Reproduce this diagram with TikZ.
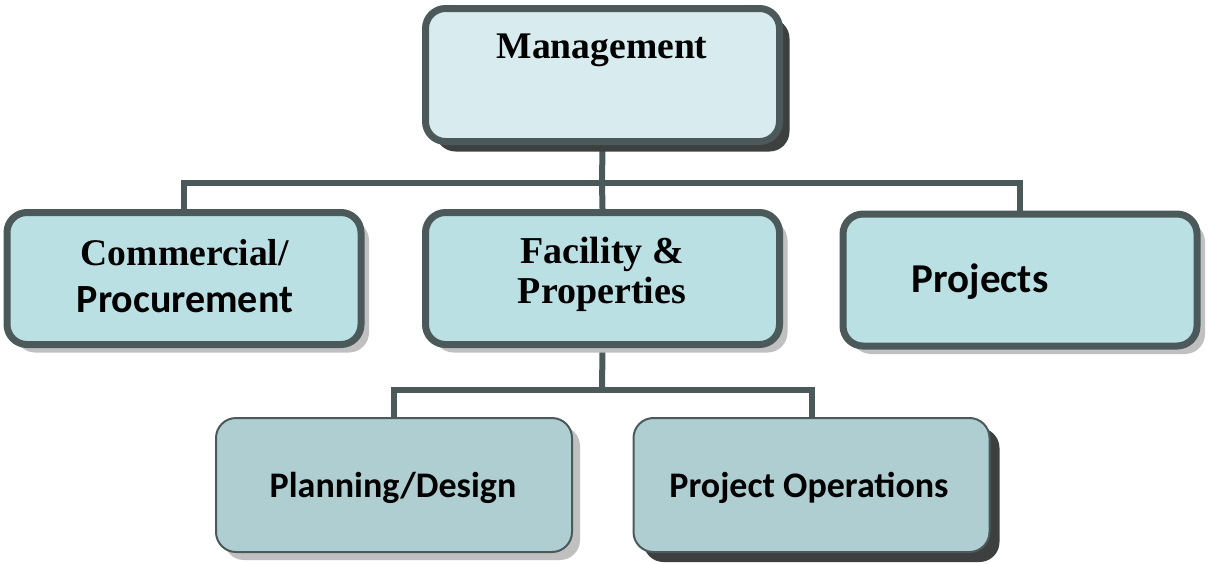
\documentclass[tikz,border=0pt]{standalone}
\usepackage{fontspec}
\setmainfont{Liberation Serif}
\setsansfont{Carlito}
\usetikzlibrary{shadows,backgrounds}

\definecolor{edgegray}{RGB}{76,89,90}
\definecolor{toplight}{RGB}{216,236,240}
\definecolor{midfill}{RGB}{186,224,228}
\definecolor{lowfill}{RGB}{174,206,209}
\definecolor{shadowdark}{RGB}{62,64,64}
\definecolor{shadowlight}{RGB}{192,192,192}

\tikzset{
  unitbox/.style={rounded corners=10pt, rectangle, draw=edgegray, line width=3.5pt,
    minimum width=177pt, minimum height=66pt, fill=midfill},
  subbox/.style={rounded corners=10pt, rectangle, draw=edgegray, line width=1pt,
    minimum width=178pt, minimum height=67pt, fill=lowfill},
  darkshadow/.style={drop shadow={shadow xshift=5pt, shadow yshift=-5pt, fill=shadowdark, opacity=1}},
  lightshadow/.style={drop shadow={shadow xshift=4pt, shadow yshift=-4pt, fill=shadowlight, opacity=1}},
  serifname/.style={font=\bfseries\fontsize{18.8}{23.5}\selectfont, align=center},
  sansname/.style={font=\sffamily\bfseries\fontsize{20.5}{24}\selectfont, align=center},
  orgline/.style={draw=edgegray, line width=3pt}
}

\begin{document}
\begin{tikzpicture}[x=0.5pt, y=-0.5pt]
    \useasboundingbox (0,0) rectangle (1208,563);

    \node[unitbox, fill=toplight, minimum height=66.5pt, darkshadow] (management) at (602.5,75) {};
    \node[serifname, anchor=base] (management_text) at (602,58) {Management};

    \node[unitbox, lightshadow] (commercial) at (184,278.5) {};
    \node[unitbox, lightshadow] (facility)   at (602.5,278.5) {};
    \node[unitbox, lightshadow] (projects)   at (1020,280) {};

    \node[serifname, anchor=base] (commercial_text) at (185,312)
      {\textrm{Commercial/}\\\textsf{\fontsize{20}{23.5}\selectfont Procurement}};
    \node[serifname, anchor=base, font=\bfseries\fontsize{19}{20}\selectfont] (facility_text) at (602,303)
      {Facility \&\\Properties};
    \node[sansname, anchor=base] (projects_text) at (980,292) {Projects};

    \node[subbox, lightshadow] (planning)   at (394,485) {};
    \node[subbox, darkshadow]  (operations) at (811.5,485) {};

    \node[sansname, anchor=base, font=\sffamily\bfseries\fontsize{18}{22}\selectfont] (planning_text)   at (393,497) {Planning/Design};
    \node[sansname, anchor=base, font=\sffamily\bfseries\fontsize{18}{22}\selectfont] (operations_text) at (809,497) {Project Operations};

    \coordinate (top_split) at (602,183);
    \coordinate (low_split) at (602,390);

    \begin{scope}[on background layer]
      \draw[orgline] (management.south) -- (top_split);
      \draw[orgline] (commercial.north) |- (top_split) -| (projects.north);
      \draw[orgline] (top_split) -- (facility.north);
      \draw[orgline] (facility.south) -- (low_split);
      \draw[orgline] (planning.north) |- (low_split) -| (operations.north);
    \end{scope}
  \end{tikzpicture}
\end{document}
